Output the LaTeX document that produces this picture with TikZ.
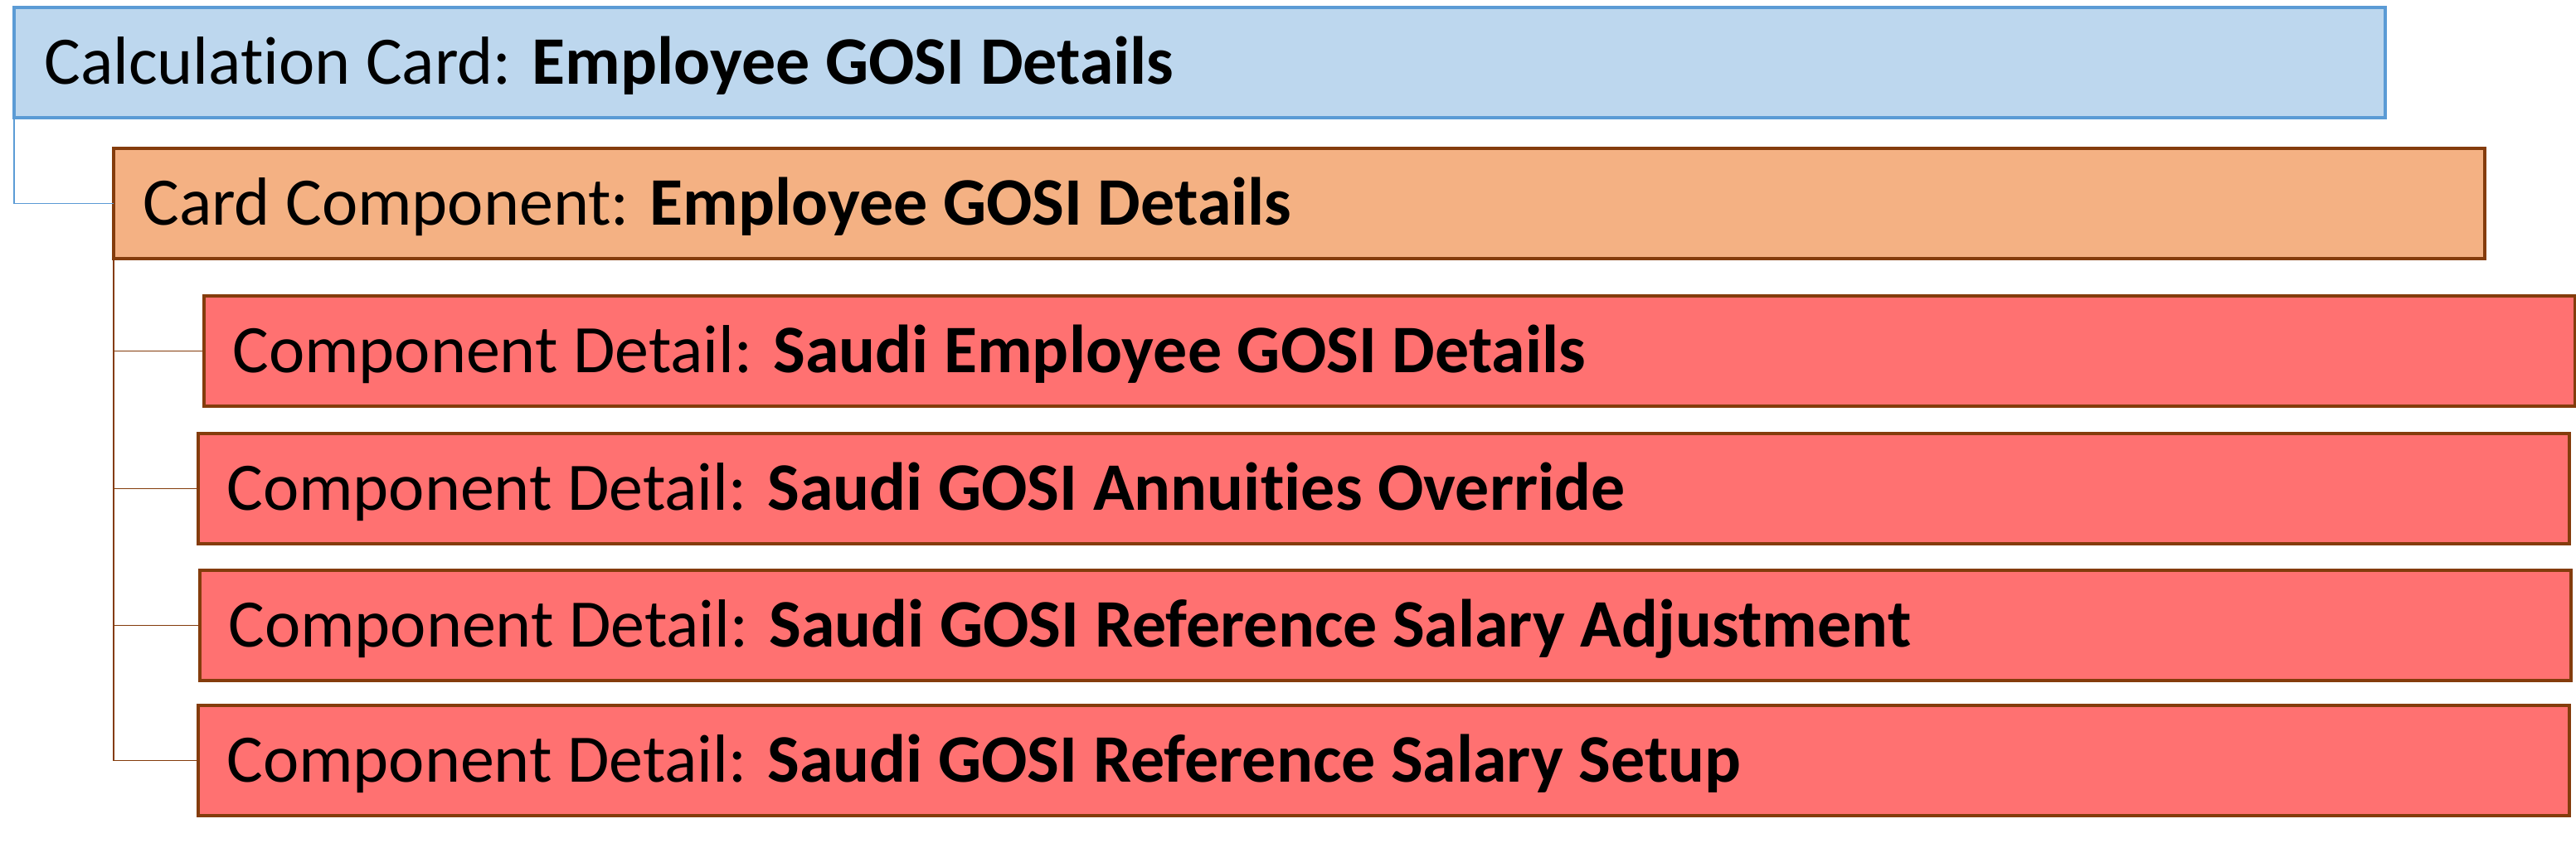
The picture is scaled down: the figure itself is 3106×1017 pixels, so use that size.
\documentclass[tikz,border=0pt]{standalone}
\usepackage{fontspec}
\setmainfont[Ligatures=NoCommon]{Carlito}
\usetikzlibrary{calc}
\definecolor{cardfill}{HTML}{BDD7EE}
\definecolor{carddraw}{HTML}{5B9BD5}
\definecolor{compfill}{HTML}{F4B183}
\definecolor{brownline}{HTML}{843C0C}
\definecolor{detfill}{HTML}{FF7171}
\tikzset{
  box/.style={rectangle, anchor=north west, inner sep=0pt, outer sep=0pt,
    minimum width=1429.5pt, minimum height=66.5pt, line width=1.6pt},
  cardbox/.style={box, draw=carddraw, fill=cardfill},
  compbox/.style={box, draw=brownline, fill=compfill},
  detbox/.style={box, draw=brownline, fill=detfill},
  lbl/.style={anchor=base west, inner sep=0pt, font=\fontsize{41}{49}\selectfont},
  bluelink/.style={draw=carddraw, line width=0.8pt},
  brownlink/.style={draw=brownline, line width=0.8pt},
}
\begin{document}
\begin{tikzpicture}[x=0.5pt, y=-0.5pt]
\useasboundingbox (0,0) rectangle (3106,1017);
\node[cardbox] (card) at (17,9) {};
\node[compbox] (comp) at (137,179) {};
\node[detbox] (d1) at (246,357) {};
\node[detbox] (d2) at (239,523) {};
\node[detbox] (d3) at (241,688) {};
\node[detbox] (d4) at (239,851) {};
\draw[bluelink] (card.south west) |- (comp.west);
\draw[brownlink] (comp.south west) |- (d4.west);
\draw[brownlink] (comp.south west |- d1.west) -- (d1.west);
\draw[brownlink] (comp.south west |- d2.west) -- (d2.west);
\draw[brownlink] (comp.south west |- d3.west) -- (d3.west);
\node[lbl] (tcard) at ($(card.west)+(36,26)$) {Calculation Card:\textbf{ Employee GOSI Details}};
\node[lbl] (tcomp) at ($(comp.west)+(35,26)$) {Card Component:\textbf{ Employee GOSI Details}};
\node[lbl] (t1) at ($(d1.west)+(34,26)$) {Component Detail:\textbf{ Saudi Employee GOSI Details}};
\node[lbl] (t2) at ($(d2.west)+(34,26)$) {Component Detail:\textbf{ Saudi GOSI Annuities Override}};
\node[lbl] (t3) at ($(d3.west)+(34,26)$) {Component Detail:\textbf{ Saudi GOSI Reference Salary Adjustment}};
\node[lbl] (t4) at ($(d4.west)+(34,26)$) {Component Detail:\textbf{ Saudi GOSI Reference Salary Setup}};
\end{tikzpicture}
\end{document}
